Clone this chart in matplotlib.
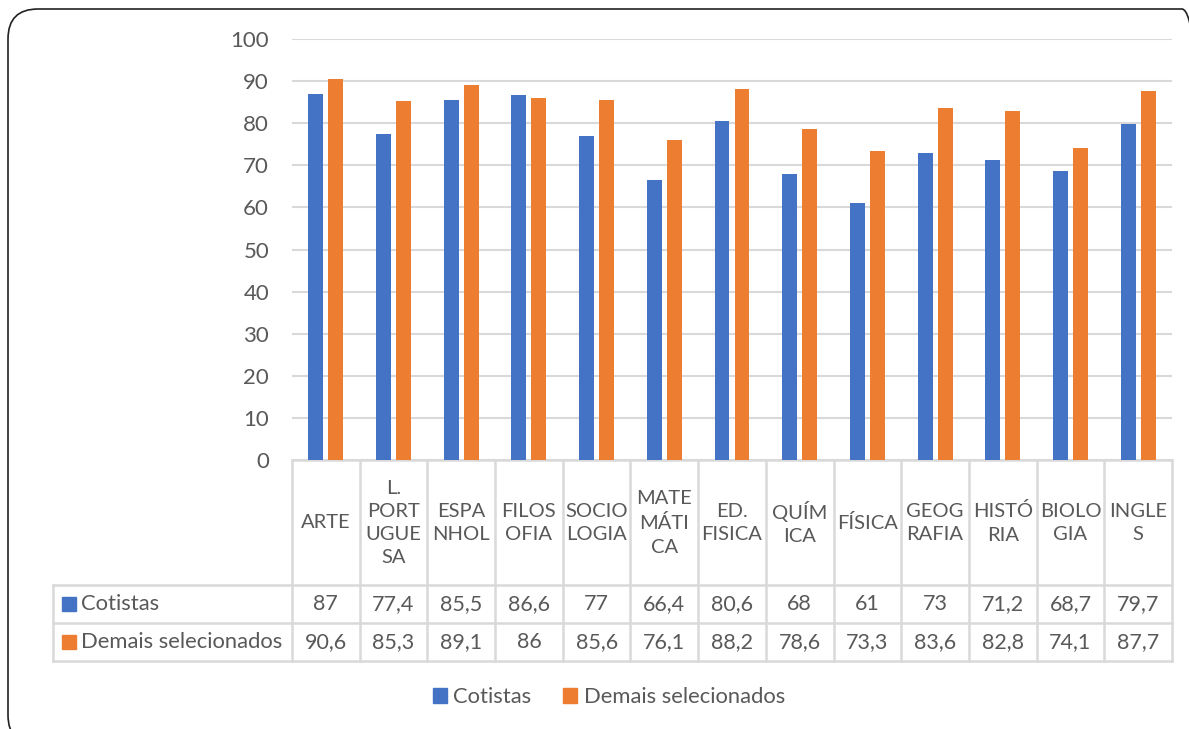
import matplotlib as mpl
import matplotlib.pyplot as plt
import numpy as np
from matplotlib.patches import FancyBboxPatch, Rectangle
from matplotlib.transforms import Affine2D

# Médias por disciplina
disciplinas = ["ARTE", "L.\nPORT\nUGUE\nSA", "ESPA\nNHOL", "FILOS\nOFIA", "SOCIO\nLOGIA",
               "MATE\nMÁTI\nCA", "ED.\nFISICA", "QUÍM\nICA", "FÍSICA", "GEOG\nRAFIA",
               "HISTÓ\nRIA", "BIOLO\nGIA", "INGLE\nS"]
cotistas = [87, 77.4, 85.5, 86.6, 77, 66.4, 80.6, 68, 61, 73, 71.2, 68.7, 79.7]
demais = [90.6, 85.3, 89.1, 86, 85.6, 76.1, 88.2, 78.6, 73.3, 83.6, 82.8, 74.1, 87.7]
series_names = ["Cotistas", "Demais selecionados"]

AZUL = "#4472C4"
LARANJA = "#ED7D31"
TEXTO = "#595959"
GRADE = "#D9D9D9"

FS_CAB = 14.5   # cabeçalho da tabela (maiúsculas)
FS_NUM = 15.5   # valores e eixo
FS_TXT = 15.8   # nomes das séries

mpl.rcParams.update({
    "font.family": ["Lato", "DejaVu Sans"],
    "font.size": FS_NUM,
    "text.color": TEXTO,
})


def fmt(v):
    return f"{v:g}".replace(".", ",")


W, H = 1189, 729
fig = plt.figure(figsize=(W / 100, H / 100), dpi=100)

# moldura arredondada do gráfico, em "pixels" da figura (origem embaixo à esquerda)
px_fig = Affine2D().scale(1 / W, 1 / H) + fig.transFigure
frame = FancyBboxPatch((8, -16), 1212 - 8, H - 9 + 16,
                       boxstyle="round,pad=0,rounding_size=30",
                       transform=px_fig, fill=False, edgecolor="#222222", linewidth=1.2)
fig.patches.append(frame)

ax_l, ax_r, ax_t, ax_b = 292, 1172, 39, 460
ax = fig.add_axes([ax_l / W, (H - ax_b) / H, (ax_r - ax_l) / W, (ax_b - ax_t) / H])

x = np.arange(len(disciplinas))
largura = 0.22
desloc = 0.148
ax.bar(x - desloc, cotistas, largura, color=AZUL, label=series_names[0], zorder=3)
ax.bar(x + desloc, demais, largura, color=LARANJA, label=series_names[1], zorder=3)

ax.set_xlim(-0.5, len(disciplinas) - 0.5)
ax.set_ylim(0, 100)
ax.set_yticks(range(0, 101, 10))
ax.tick_params(axis="y", length=0, pad=16.5, labelcolor=TEXTO, labelsize=16)
ax.set_xticks([])
for s in ax.spines.values():
    s.set_visible(False)
ax.grid(axis="y", color=GRADE, linewidth=1.5, zorder=0)
ax.set_axisbelow(True)


# tabela de dados abaixo do eixo
def fy(py):
    return (ax_b - py) / (ax_b - ax_t)


def fx(px):
    return (px - ax_l) / (ax_r - ax_l)


y_cab, y_l1, y_l2, y_fim = 0.0, fy(585), fy(623), fy(661)
x_esq = fx(53)
tbl = dict(color=GRADE, linewidth=1.8, clip_on=False, zorder=1)
xt = ax.get_xaxis_transform()

ax.plot([0, 1], [y_cab, y_cab], transform=ax.transAxes, **tbl)
for yy in (y_l1, y_l2, y_fim):
    ax.plot([x_esq, 1], [yy, yy], transform=ax.transAxes, **tbl)
for xb in np.arange(len(disciplinas) + 1) - 0.5:
    ax.plot([xb, xb], [y_cab, y_fim], transform=xt, **tbl)
ax.plot([x_esq, x_esq], [y_l1, y_fim], transform=ax.transAxes, **tbl)

y_txt_cab = fy(523)
y_txt1 = fy(604)
y_txt2 = fy(642)
for i, nome in enumerate(disciplinas):
    ax.text(i, y_txt_cab, nome, transform=xt, ha="center", va="center",
            linespacing=1.45, fontsize=FS_CAB, clip_on=False)
    ax.text(i, y_txt1, fmt(cotistas[i]), transform=xt, ha="center", va="center",
            fontsize=FS_NUM, clip_on=False)
    ax.text(i, y_txt2, fmt(demais[i]), transform=xt, ha="center", va="center",
            fontsize=FS_NUM, clip_on=False)

for yy, nome, cor in ((y_txt1, series_names[0], AZUL), (y_txt2, series_names[1], LARANJA)):
    ax.add_patch(Rectangle((fx(62), yy - 7 / (ax_b - ax_t)), fx(76) - fx(62), 14 / (ax_b - ax_t),
                           transform=ax.transAxes, color=cor, clip_on=False))
    ax.text(fx(81), yy, nome, transform=ax.transAxes, ha="left", va="center",
            fontsize=FS_TXT, clip_on=False)

# legenda inferior
handles = [Rectangle((0, 0), 1, 1, color=AZUL), Rectangle((0, 0), 1, 1, color=LARANJA)]
fig.legend(handles, series_names, loc="center", bbox_to_anchor=(609 / W, 1 - 697 / H),
           ncol=2, frameon=False, fontsize=FS_TXT, handlelength=0.64, handleheight=0.64,
           handletextpad=0.3, columnspacing=1.45, labelcolor=TEXTO)

fig.savefig("out.png", dpi=100)
